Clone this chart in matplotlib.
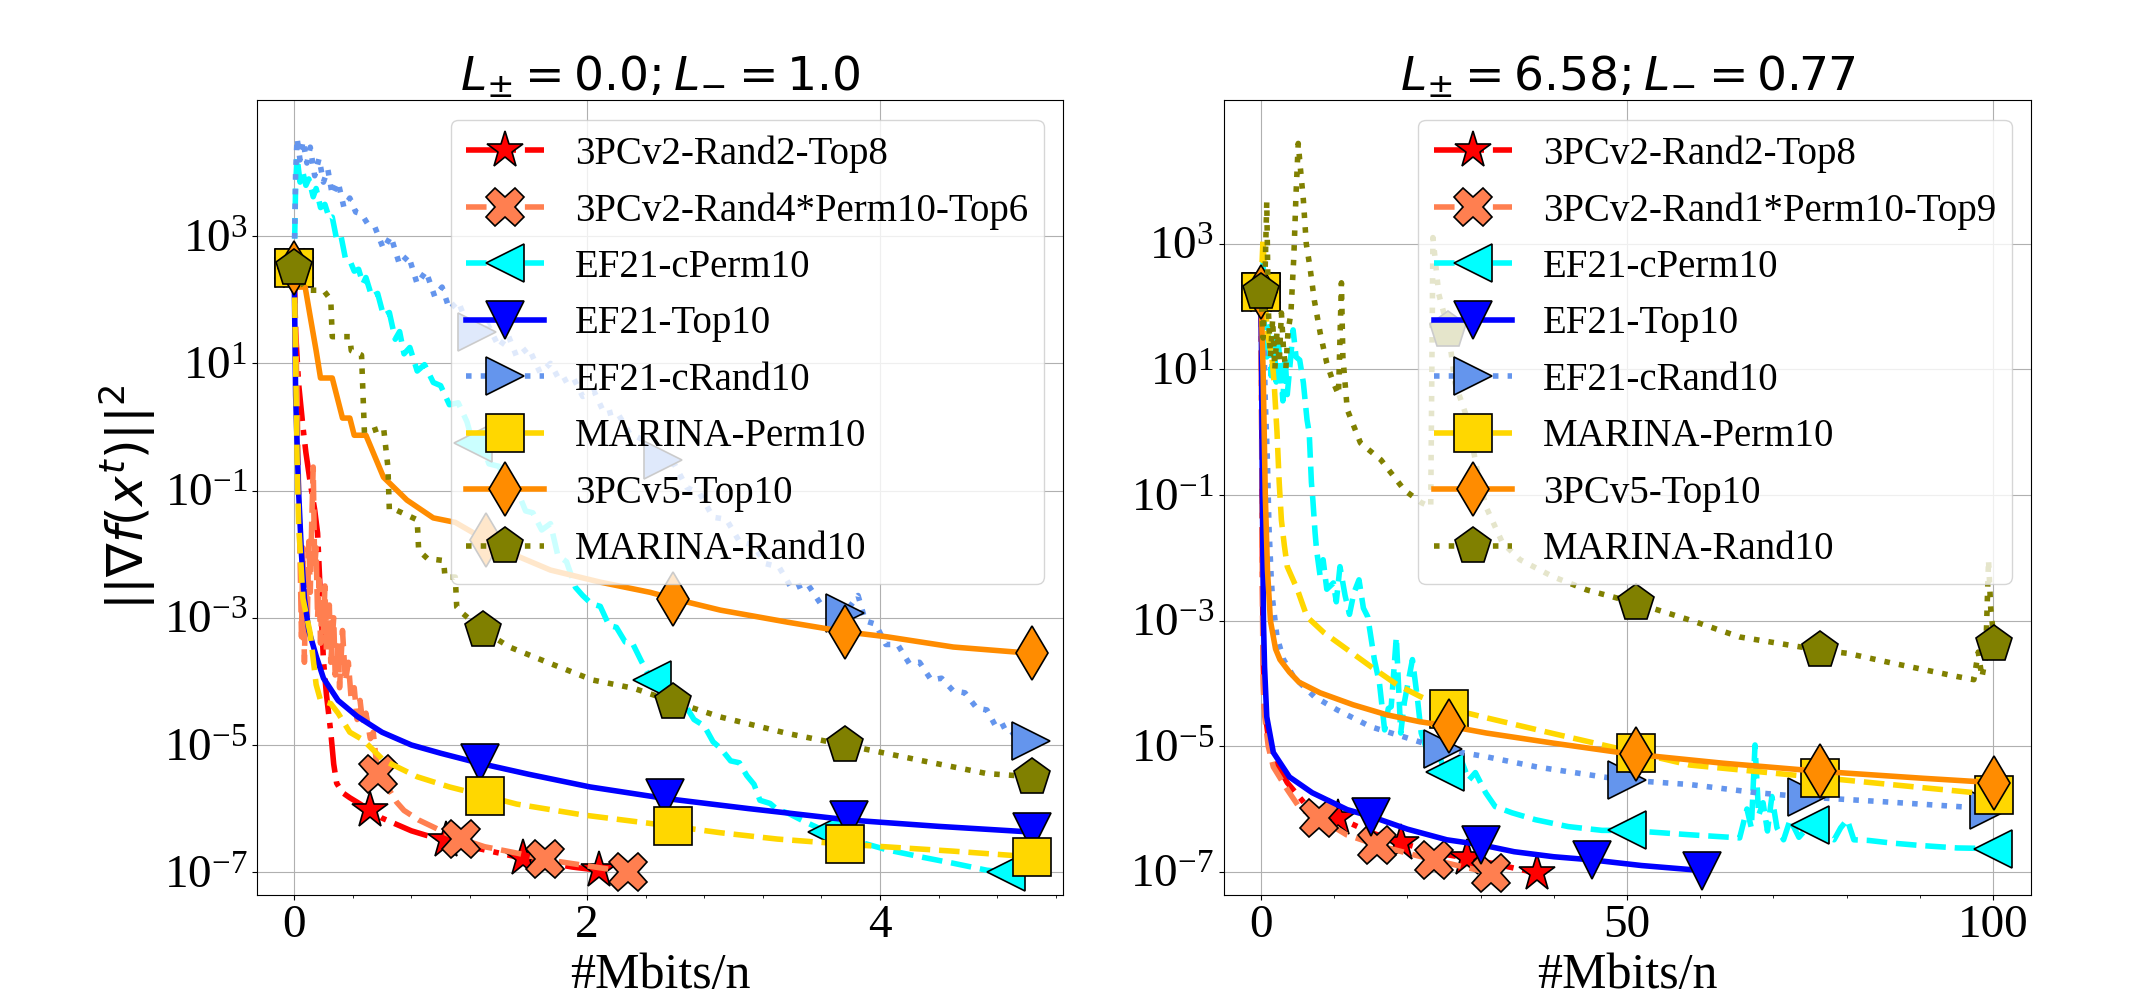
import numpy as np
import matplotlib
matplotlib.use('Agg')
import matplotlib.pyplot as plt
from matplotlib.ticker import FixedLocator, NullLocator, LogFormatterSciNotation, AutoMinorLocator

plt.rcParams['font.family'] = 'serif'
plt.rcParams['font.serif'] = ['Liberation Serif', 'DejaVu Serif']

# method names, in plotting / legend order
LABELS_LEFT = ['3PCv2-Rand2-Top8', '3PCv2-Rand4*Perm10-Top6', 'EF21-cPerm10', 'EF21-Top10',
               'EF21-cRand10', 'MARINA-Perm10', '3PCv5-Top10', 'MARINA-Rand10']
LABELS_RIGHT = ['3PCv2-Rand2-Top8', '3PCv2-Rand1*Perm10-Top9', 'EF21-cPerm10', 'EF21-Top10',
                'EF21-cRand10', 'MARINA-Perm10', '3PCv5-Top10', 'MARINA-Rand10']
COLORS = ['red', 'coral', 'cyan', 'blue', 'cornflowerblue', 'gold', 'darkorange', 'olive']
STYLES = ['-.', '--', '--', '-', ':', '--', '-', ':']
MARKERS = ['*', 'X', '<', 'v', '>', 's', 'd', 'p']

# ---- left panel: (Mbits/n, log10 ||grad||^2) ----
L_RED = [(0, 2.5), (0.01, 1.5), (0.03, 0.69), (0.06, 0.0), (0.08, -0.4), (0.11, -0.88), (0.14, -1.3),
         (0.16, -1.67), (0.18, -2.7), (0.2, -3.67), (0.22, -4.2), (0.25, -4.8), (0.27, -5.3), (0.29, -5.6),
         (0.33, -5.75), (0.38, -5.83), (0.43, -5.9), (0.52, -6.03), (0.6, -6.15), (0.7, -6.25), (0.8, -6.35),
         (0.9, -6.42), (1.04, -6.5), (1.2, -6.6), (1.4, -6.7), (1.56, -6.78), (1.75, -6.86), (1.9, -6.92),
         (2.08, -6.97)]
L_CORAL = [(0, 2.5), (0.02, 0.5), (0.03, -1.0), (0.04, -2.0), (0.05, -3.3), (0.06, -1.9), (0.07, -3.7),
           (0.08, -2.3), (0.09, -3.0), (0.1, -1.8), (0.11, -2.6), (0.12, -1.5), (0.13, -0.63), (0.14, -2.2),
           (0.15, -1.9), (0.16, -3.0), (0.17, -2.4), (0.18, -3.4), (0.19, -2.7), (0.2, -3.2), (0.21, -2.5),
           (0.22, -3.5), (0.24, -2.8), (0.25, -3.7), (0.27, -3.0), (0.28, -3.9), (0.3, -3.4), (0.31, -4.1),
           (0.33, -3.2), (0.35, -4.0), (0.37, -3.7), (0.39, -4.3), (0.41, -4.1), (0.43, -4.6), (0.45, -4.3),
           (0.47, -4.7), (0.49, -4.5), (0.52, -4.9), (0.54, -4.8), (0.57, -5.46), (0.6, -5.55), (0.65, -5.71),
           (0.7, -5.9), (0.75, -6.03), (0.85, -6.18), (0.95, -6.29), (1.05, -6.4), (1.14, -6.48), (1.3, -6.6),
           (1.52, -6.7), (1.71, -6.8), (1.97, -6.89), (2.28, -7.0)]
L_CYAN = [(0, 2.5), (0.01, 3.8), (0.02, 4.24), (0.04, 3.85), (0.06, 4.0), (0.08, 3.8), (0.1, 3.9),
          (0.13, 3.62), (0.15, 3.75), (0.18, 3.45), (0.21, 3.5), (0.24, 3.28), (0.26, 3.3), (0.29, 2.95),
          (0.32, 3.0), (0.35, 2.65), (0.38, 2.62), (0.41, 2.45), (0.44, 2.48), (0.47, 2.25), (0.49, 2.35),
          (0.53, 2.05), (0.57, 2.1), (0.61, 1.75), (0.65, 1.8), (0.69, 1.38), (0.72, 1.5), (0.75, 1.15),
          (0.79, 1.25), (0.84, 0.88), (0.89, 0.98), (0.95, 0.7), (1.0, 0.65), (1.06, 0.35), (1.12, 0.38),
          (1.18, 0.08), (1.22, -0.25), (1.27, -0.2), (1.33, -0.58), (1.4, -0.62), (1.46, -0.95), (1.52, -0.98),
          (1.58, -1.32), (1.63, -1.35), (1.69, -1.62), (1.75, -1.52), (1.8, -2.02), (1.86, -2.12), (1.92, -2.52),
          (1.97, -2.65), (2.03, -2.78), (2.09, -2.82), (2.15, -3.12), (2.2, -3.15), (2.26, -3.38), (2.31, -3.4),
          (2.37, -3.68), (2.44, -3.98), (2.5, -4.0), (2.57, -4.22), (2.65, -4.3), (2.73, -4.6), (2.8, -4.7),
          (2.86, -4.95), (2.91, -5.05), (2.98, -5.25), (3.04, -5.28), (3.09, -5.48), (3.14, -5.62), (3.18, -5.87),
          (3.25, -5.92), (3.3, -6.02), (3.37, -6.07), (3.48, -6.2), (3.64, -6.37), (3.85, -6.52), (4.05, -6.65),
          (4.3, -6.77), (4.5, -6.86), (4.73, -6.97), (4.86, -7.0)]
L_BLUE = [(0, 2.5), (0.01, 0.5), (0.03, -1.0), (0.05, -2.0), (0.07, -2.7), (0.1, -3.2), (0.15, -3.6),
          (0.2, -3.95), (0.3, -4.3), (0.43, -4.55), (0.6, -4.8), (0.8, -5.0), (1.0, -5.13), (1.27, -5.29),
          (1.6, -5.46), (2.02, -5.66), (2.53, -5.84), (3.1, -6.0), (3.79, -6.18), (4.4, -6.28), (5.04, -6.37)]
L_CORNFLOWER = [(0, 2.5), (0.01, 4.0), (0.02, 4.54), (0.04, 4.2), (0.06, 4.5), (0.087, 4.15), (0.11, 4.4),
                (0.14, 3.95), (0.17, 4.22), (0.2, 3.85), (0.23, 4.05), (0.26, 3.65), (0.3, 3.85), (0.34, 3.45),
                (0.38, 3.6), (0.42, 3.38), (0.46, 3.35), (0.5, 3.2), (0.55, 3.15), (0.61, 2.8), (0.66, 3.0),
                (0.72, 2.55), (0.78, 2.7), (0.84, 2.25), (0.9, 2.45), (0.96, 2.05), (1.01, 2.2), (1.06, 1.85),
                (1.12, 1.98), (1.18, 1.62), (1.25, 1.5), (1.32, 1.62), (1.4, 1.25), (1.46, 1.45), (1.52, 1.1),
                (1.6, 1.25), (1.68, 0.85), (1.75, 1.0), (1.82, 0.7), (1.9, 0.8), (1.97, 0.48), (2.05, 0.55),
                (2.12, 0.2), (2.2, 0.25), (2.29, -0.1), (2.38, -0.2), (2.45, -0.45), (2.52, -0.52), (2.6, -0.6),
                (2.68, -0.95), (2.77, -1.05), (2.86, -1.42), (2.95, -1.45), (3.04, -1.8), (3.13, -1.85),
                (3.22, -2.15), (3.31, -2.2), (3.4, -2.55), (3.5, -2.45), (3.6, -2.8), (3.68, -2.75), (3.76, -2.93),
                (3.85, -2.65), (3.9, -3.05), (3.97, -3.1), (4.04, -3.42), (4.12, -3.42), (4.2, -3.72), (4.27, -3.7),
                (4.35, -3.98), (4.42, -3.95), (4.5, -4.15), (4.58, -4.18), (4.66, -4.42), (4.73, -4.45),
                (4.8, -4.75), (4.86, -4.68), (4.93, -4.88), (5.03, -4.94)]
L_GOLD = [(0, 2.5), (0.01, 1.0), (0.02, -0.5), (0.03, -1.5), (0.06, -2.7), (0.11, -3.25), (0.15, -4.05),
          (0.18, -4.3), (0.25, -4.35), (0.3, -4.5), (0.38, -4.8), (0.47, -4.92), (0.61, -5.24), (0.84, -5.5),
          (1.06, -5.66), (1.3, -5.8), (1.52, -5.93), (1.97, -6.1), (2.59, -6.28), (2.91, -6.38), (3.3, -6.48),
          (3.76, -6.56), (4.5, -6.67), (5.04, -6.76)]
L_ORANGE = [(0, 2.5), (0.02, 2.2), (0.075, 2.2), (0.11, 1.73), (0.15, 1.2), (0.18, 0.77), (0.26, 0.77),
            (0.33, 0.14), (0.38, 0.14), (0.41, -0.13), (0.49, -0.13), (0.61, -0.79), (0.77, -1.15), (0.95, -1.43),
            (1.1, -1.5), (1.31, -1.78), (1.38, -1.89), (1.75, -2.25), (2.09, -2.44), (2.43, -2.6), (2.59, -2.7),
            (2.91, -2.88), (3.37, -3.07), (3.76, -3.22), (4.05, -3.3), (4.5, -3.46), (5.04, -3.56)]
L_OLIVE = [(0, 2.5), (0.04, 2.3), (0.09, 2.15), (0.2, 2.15), (0.25, 2.0), (0.26, 1.42), (0.38, 1.42),
           (0.39, 1.2), (0.46, 1.13), (0.48, -0.1), (0.61, 0.0), (0.64, -0.63), (0.65, -1.31), (0.69, -1.3),
           (0.84, -1.46), (0.85, -1.94), (0.91, -2.07), (1.02, -2.1), (1.03, -2.36), (1.1, -2.36), (1.11, -2.83),
           (1.15, -2.93), (1.29, -3.2), (1.47, -3.46), (1.75, -3.72), (2.04, -3.98), (2.32, -4.11), (2.59, -4.32),
           (2.91, -4.56), (3.37, -4.82), (3.76, -5.0), (4.27, -5.24), (4.73, -5.45), (5.04, -5.5)]

L_MARKS = [[0, 0.52, 1.04, 1.56, 2.08], [0, 0.57, 1.14, 1.71, 2.28], [0, 1.22, 2.44, 3.64, 4.86],
           [0, 1.27, 2.53, 3.79, 5.04], [0, 1.25, 2.52, 3.76, 5.03], [0, 1.3, 2.59, 3.76, 5.04],
           [0, 1.31, 2.59, 3.76, 5.04], [0, 1.29, 2.59, 3.76, 5.04]]

# ---- right panel ----
R_RED = [(0, 2.24), (0.1, 0.5), (0.2, -2.0), (0.3, -3.6), (0.5, -4.4), (1.0, -4.85), (1.8, -5.2), (3.6, -5.58),
         (5.9, -5.9), (8.0, -6.03), (10.6, -6.14), (14.9, -6.37), (19.2, -6.54), (24.0, -6.7), (28.1, -6.78),
         (33.0, -6.9), (37.7, -7.02)]
R_CORAL = [(0, 2.24), (0.1, 0.0), (0.2, -2.5), (0.3, -4.0), (0.5, -4.5), (1.0, -5.0), (1.7, -5.33), (3.6, -5.69),
           (5.4, -6.0), (7.9, -6.14), (11.7, -6.41), (15.8, -6.57), (19.9, -6.7), (23.6, -6.81), (27.6, -6.92),
           (31.5, -7.02)]
R_CYAN = [(0, 2.24), (0.3, 2.8), (0.5, 1.5), (0.8, 1.2), (1.1, 1.68), (1.4, 0.9), (1.8, 1.5), (2.1, 0.8),
          (2.4, 1.4), (2.7, 1.0), (3.0, 0.5), (3.3, 1.2), (3.6, 0.6), (4.0, 1.1), (4.4, 1.63), (4.8, 1.2),
          (5.3, 1.15), (5.8, 0.79), (6.3, 0.2), (6.6, -0.01), (6.9, -0.8), (7.1, -1.08), (7.4, -1.6),
          (7.6, -1.87), (8.1, -2.3), (8.5, -2.03), (9.0, -2.5), (9.9, -2.4), (10.3, -2.7), (10.8, -2.14),
          (11.5, -2.6), (12.1, -2.9), (12.7, -2.56), (13.4, -2.35), (14.0, -2.8), (14.6, -2.94), (15.5, -3.62),
          (16.2, -4.0), (16.9, -4.74), (17.4, -4.4), (17.8, -4.37), (18.5, -3.26), (19.1, -4.79), (19.6, -4.3),
          (20.0, -4.05), (20.7, -3.62), (21.4, -4.26), (21.9, -4.79), (22.5, -5.0), (23.2, -5.26), (24.0, -5.0),
          (25.1, -5.41), (26.4, -5.33), (27.5, -5.26), (28.4, -5.54), (29.3, -5.42), (30.7, -5.74), (32.0, -5.96),
          (34.3, -6.06), (37.5, -6.17), (42.0, -6.28), (46.6, -6.34), (50.0, -6.34), (58.6, -6.41), (65.4, -6.46),
          (66.4, -6.0), (67.0, -6.3), (67.5, -4.98), (68.0, -6.1), (68.6, -5.9), (69.2, -6.35), (69.8, -5.8),
          (70.5, -6.3), (71.4, -6.49), (72.3, -6.17), (73.5, -6.45), (75.0, -6.25), (76.5, -6.4), (78.3, -6.49),
          (79.2, -6.3), (80.1, -6.17), (81.0, -6.49), (83.0, -6.5), (86.0, -6.54), (90.0, -6.58), (95.1, -6.62),
          (100.0, -6.63)]
R_BLUE = [(0, 2.24), (0.1, 1.0), (0.2, -1.0), (0.35, -3.0), (0.5, -3.74), (0.8, -4.53), (1.7, -5.1), (3.9, -5.49),
          (7.0, -5.74), (11.8, -6.01), (15.1, -6.12), (20.0, -6.32), (25.4, -6.49), (30.1, -6.57), (34.6, -6.68),
          (40.0, -6.76), (45.2, -6.81), (52.0, -6.9), (60.3, -6.98)]
R_CORNFLOWER = [(0, 2.24), (0.3, 2.0), (0.6, 0.5), (0.9, -0.5), (1.1, -1.5), (1.4, -2.3), (1.6, -2.67),
                (2.2, -3.26), (3.1, -3.62), (4.5, -3.9), (7.3, -4.21), (10.4, -4.42), (15.0, -4.69), (19.5, -4.85),
                (24.9, -5.05), (30.9, -5.17), (37.7, -5.33), (46.8, -5.49), (50.0, -5.54), (58.6, -5.61),
                (67.7, -5.74), (74.6, -5.81), (85.9, -5.89), (96.4, -5.97), (99.5, -6.01)]
R_GOLD = [(0, 2.24), (0.3, 3.1), (0.6, 2.0), (1.0, 1.5), (1.5, 1.2), (1.8, 0.8), (2.2, 0.0), (2.5, -0.8),
          (2.8, -1.4), (3.2, -1.8), (3.6, -2.14), (5.0, -2.51), (6.3, -2.94), (8.6, -3.19), (11.8, -3.46),
          (15.0, -3.73), (18.6, -4.02), (21.8, -4.21), (25.7, -4.4), (30.9, -4.55), (40.0, -4.8), (51.2, -5.1),
          (58.6, -5.3), (76.4, -5.5), (90.4, -5.66), (100.2, -5.77)]
R_ORANGE = [(0, 2.24), (0.3, 1.0), (0.6, -1.0), (0.9, -2.2), (1.3, -3.0), (2.0, -3.45), (2.6, -3.62),
            (3.9, -3.82), (5.2, -3.98), (8.1, -4.15), (12.6, -4.34), (17.2, -4.5), (21.7, -4.61), (25.7, -4.68),
            (30.8, -4.79), (39.9, -4.95), (49.0, -5.1), (51.2, -5.13), (63.1, -5.27), (76.4, -5.4), (90.4, -5.51),
            (100.2, -5.58)]
R_OLIVE = [(0, 2.24), (0.3, 1.5), (0.5, 2.2), (0.8, 3.67), (1.0, 2.0), (1.3, 1.2), (1.6, 1.8), (1.9, 1.0),
           (2.2, 1.6), (2.5, 1.1), (2.8, 1.9), (3.1, 1.3), (3.4, 1.0), (3.7, 1.6), (4.1, 1.9), (4.5, 2.8),
           (4.8, 3.8), (5.1, 4.6), (5.4, 4.2), (5.8, 3.7), (6.2, 3.0), (6.7, 2.63), (7.3, 2.1), (8.1, 1.58),
           (9.0, 1.1), (9.9, 0.79), (10.6, 0.6), (11.0, 2.38), (11.2, 1.2), (11.8, 0.36), (13.6, -0.17),
           (16.4, -0.44), (19.6, -0.92), (21.9, -1.12), (23.2, -1.19), (23.5, 3.1), (24.3, 2.2), (25.6, 1.63),
           (26.5, 0.79), (28.1, 0.25), (29.9, -0.8), (30.8, -1.2), (33.0, -1.76), (35.4, -2.03), (39.9, -2.3),
           (44.5, -2.51), (51.2, -2.72), (58.6, -2.99), (65.4, -3.26), (76.4, -3.47), (80.1, -3.52), (86.0, -3.67),
           (95.1, -3.89), (97.4, -3.94), (98.0, -3.5), (98.5, -3.9), (99.0, -3.6), (99.4, -2.03), (99.7, -2.8),
           (100.2, -3.37)]

R_MARKS = [[0, 10.6, 19.2, 28.1, 37.7], [0, 7.9, 15.8, 23.6, 31.5], [0, 25.1, 50.0, 75.0, 100.0],
           [0, 15.1, 30.1, 45.2, 60.3], [0, 24.9, 50.0, 74.6, 99.5], [0, 25.7, 51.2, 76.4, 100.2],
           [0, 25.7, 51.2, 76.4, 100.2], [0, 25.6, 51.2, 76.4, 100.2]]

LEFT = [L_RED, L_CORAL, L_CYAN, L_BLUE, L_CORNFLOWER, L_GOLD, L_ORANGE, L_OLIVE]
RIGHT = [R_RED, R_CORAL, R_CYAN, R_BLUE, R_CORNFLOWER, R_GOLD, R_ORANGE, R_OLIVE]


def draw_panel(ax, series, marks, labels, title, xlim, ylim, xticks):
    for i, s in enumerate(series):
        x = np.array([p[0] for p in s])
        y = 10.0 ** np.array([p[1] for p in s])
        idx = [int(np.argmin(np.abs(x - m))) for m in marks[i]]
        ax.plot(x, y, linestyle=STYLES[i], color=COLORS[i], lw=4, marker=MARKERS[i],
                markevery=idx, ms=28, mec='black', mew=1.2, label=labels[i])
    ax.set_yscale('log')
    ax.set_xlim(*xlim)
    ax.set_ylim(*ylim)
    ax.yaxis.set_major_locator(FixedLocator([1e-7, 1e-5, 1e-3, 1e-1, 1e1, 1e3]))
    ax.yaxis.set_major_formatter(LogFormatterSciNotation())
    ax.yaxis.set_minor_locator(NullLocator())
    ax.set_xticks(xticks)
    ax.xaxis.set_minor_locator(AutoMinorLocator(5))
    ax.tick_params(labelsize=34)
    ax.grid(True)
    ax.set_title(title, fontsize=34)
    ax.set_xlabel('#Mbits/n', fontsize=36)
    ax.legend(loc='upper right', fontsize=28)


fig = plt.figure(figsize=(21.39, 9.89), dpi=100)
ax1 = fig.add_axes([0.1202, 0.0950, 0.3768, 0.8038])
ax2 = fig.add_axes([0.5722, 0.0950, 0.3773, 0.8038])

draw_panel(ax1, LEFT, L_MARKS, LABELS_LEFT, r'$L_{\pm} = 0.0; L_{-} = 1.0$',
           (-0.253, 5.25), (10 ** -7.36, 10 ** 5.14), [0, 2, 4])
draw_panel(ax2, RIGHT, R_MARKS, LABELS_RIGHT, r'$L_{\pm} = 6.58; L_{-} = 0.77$',
           (-5.05, 105.2), (10 ** -7.37, 10 ** 5.29), [0, 50, 100])
ax1.set_ylabel(r'$||\nabla f(x^t)||^2$', fontsize=36)

fig.savefig('out.png', dpi=100)
